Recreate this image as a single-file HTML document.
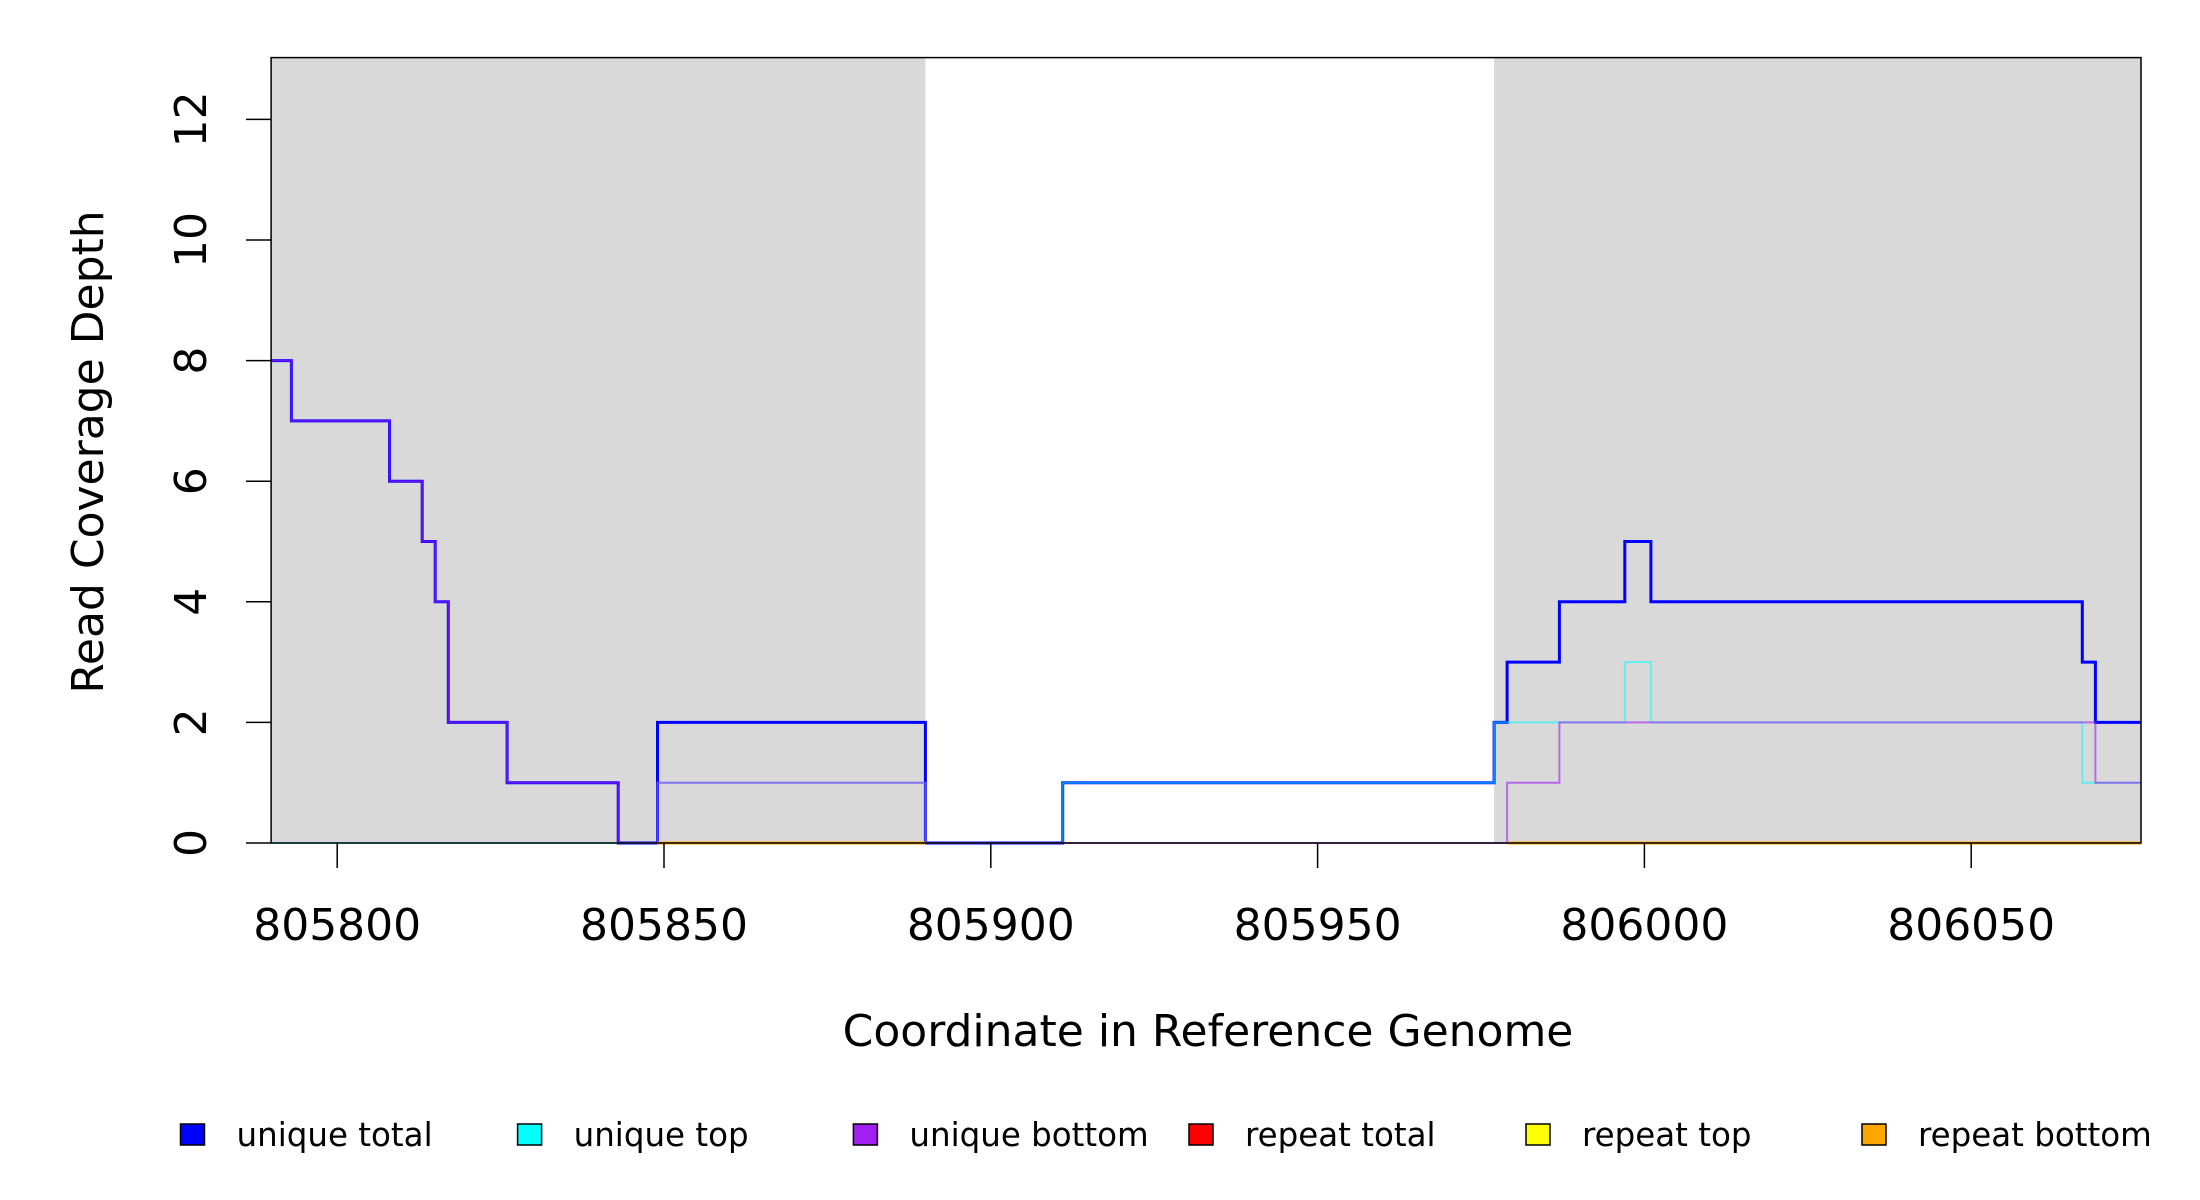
<!DOCTYPE html>
<html><head><meta charset="utf-8">
<style>
html,body{margin:0;padding:0;background:#fff;}
svg{display:block;font-family:"DejaVu Sans","Liberation Sans",sans-serif;}
</style></head>
<body>
<svg id="s" width="2200" height="1200" xmlns="http://www.w3.org/2000/svg">
<rect width="2200" height="1200" fill="#fff"/>
<g id="g"></g>
</svg>
<script>
const NS="http://www.w3.org/2000/svg";
const g=document.getElementById('g');
const X=x=>337.2+(x-805800)*6.536;
const Y=v=>843-v*60.3;
const L=271.1,R=2141,T=57.6,B=843;
function el(t,a,txt){const e=document.createElementNS(NS,t);for(const k in a)e.setAttribute(k,a[k]);if(txt!==undefined)e.textContent=txt;g.appendChild(e);return e;}
el('rect',{x:L,y:T,width:X(805890)-L,height:B-T,fill:'#d9d9d9'});
el('rect',{x:X(805977),y:T,width:R-X(805977),height:B-T,fill:'#d9d9d9'});
function step(pts,end,col,w,op){
  let d='';
  for(let i=0;i<pts.length;i++){
    const [x,v]=pts[i];const nx=i+1<pts.length?pts[i+1][0]:end;
    d+=(i==0?'M':'L')+X(x).toFixed(1)+','+Y(v).toFixed(1)+'L'+X(nx).toFixed(1)+','+Y(v).toFixed(1);
  }
  el('path',{d:d,fill:'none',stroke:col,'stroke-width':w,'stroke-opacity':op||1});
}
const S=805789.9,E=806076;
step([[S,8],[805793,7],[805808,6],[805813,5],[805815,4],[805817,2],[805826,1],[805843,0],[805849,2],[805890,0],[805911,1],[805977,2],[805979,3],[805987,4],[805997,5],[806001,4],[806067,3],[806069,2]],E,'#0000ff',3);
step([[S,0],[805849,1],[805890,0],[805911,1],[805977,2],[805997,3],[806001,2],[806067,1]],E,'#00ffff',2,0.55);
step([[S,8],[805793,7],[805808,6],[805813,5],[805815,4],[805817,2],[805826,1],[805843,0],[805849,1],[805890,0],[805979,1],[805987,2],[806069,1]],E,'#a020f0',2,0.6);
step([[805849,0],[805890,0]],805890,'#ffa500',3);
step([[805979,0]],E,'#ffa500',3);
el('rect',{x:L,y:T,width:R-L,height:B-T,fill:'none',stroke:'#000','stroke-width':1.5});
for(let v=0;v<=12;v+=2){
  el('line',{x1:246,y1:Y(v),x2:L,y2:Y(v),stroke:'#000','stroke-width':1.5});
  el('text',{transform:`translate(206,${Y(v)}) rotate(-90)`,'text-anchor':'middle','font-size':44},String(v));
}
for(let x=805800;x<=806050;x+=50){
  el('line',{x1:X(x),y1:B,x2:X(x),y2:B+25,stroke:'#000','stroke-width':1.5});
  el('text',{x:X(x),y:940,'text-anchor':'middle','font-size':44},String(x));
}
el('text',{transform:'translate(103,452) rotate(-90)','text-anchor':'middle','font-size':44},'Read Coverage Depth');
el('text',{x:1208,y:1046,'text-anchor':'middle','font-size':44},'Coordinate in Reference Genome');
const leg=[['unique total','#0000ff',192.5],['unique top','#00ffff',529.6],['unique bottom','#a020f0',865.4],['repeat total','#ff0000',1201],['repeat top','#ffff00',1538],['repeat bottom','#ffa500',1874]];
for(const [t,c,x] of leg){
  el('rect',{x:x-12,y:1124,width:24,height:21,fill:c,stroke:'#000','stroke-width':1.5});
  el('text',{x:x+44,y:1146,'font-size':32.5},t);
}
</script>
</body></html>
